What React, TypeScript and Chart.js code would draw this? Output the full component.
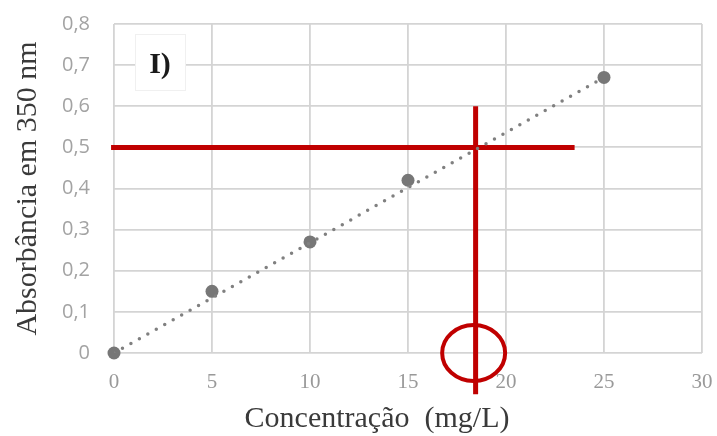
import React, { useEffect, useRef } from "react";
import { Chart, registerables } from "chart.js";

Chart.register(...registerables);

// ---- data ----
const concentrations = [0, 5, 10, 15, 25];
const absorbances = [0, 0.15, 0.27, 0.42, 0.67];
const trendConc = [0, 25];
const trendAbs = [0.0, 0.67];
const xTickLabels = ["0", "5", "10", "15", "20", "25", "30"];
const yTickLabels = ["0", "0,1", "0,2", "0,3", "0,4", "0,5", "0,6", "0,7", "0,8"];
const hLineX = [-0.15, 23.5];
const hLineY = [0.5, 0.5];
const vLineX = [18.45, 18.45];
const vLineY = [0.6, -0.1];
const circleCenter = [18.35, 0];
const panelLabel = "I)";
const xTitle = "Concentração  (mg/L)";
const yTitle = "Absorbância em 350 nm";

const RED = "#c00000";

const overlayPlugin = {
  id: "overlay",
  beforeDatasetsDraw(chart: any) {
    const { ctx, chartArea } = chart;
    ctx.save();
    const bx = chartArea.left + 21;
    const by = chartArea.top + 10;
    ctx.fillStyle = "#ffffff";
    ctx.fillRect(bx, by, 50, 56);
    ctx.strokeStyle = "#f0f0f0";
    ctx.lineWidth = 1;
    ctx.strokeRect(bx + 0.5, by + 0.5, 50, 56);
    ctx.fillStyle = "#1a1a1a";
    ctx.font = "bold 30px 'Liberation Serif'";
    ctx.textAlign = "center";
    ctx.textBaseline = "middle";
    ctx.fillText(panelLabel, bx + 25, by + 31);
    ctx.restore();
  },
  afterDatasetsDraw(chart: any) {
    const { ctx, scales, chartArea } = chart;
    const cx = scales.x.getPixelForValue(circleCenter[0]);
    const cy = scales.y.getPixelForValue(circleCenter[1]);
    ctx.save();
    ctx.strokeStyle = RED;
    ctx.lineWidth = 4;
    ctx.beginPath();
    ctx.ellipse(cx, cy, 31.5, 28, 0, 0, Math.PI * 2);
    ctx.stroke();
    // x-axis title (sits a little left of the plot centre in the reference)
    ctx.fillStyle = "#3a3a3a";
    ctx.font = "30px 'Liberation Serif'";
    ctx.textAlign = "center";
    ctx.textBaseline = "middle";
    ctx.fillText(xTitle, (chartArea.left + chartArea.right) / 2 - 31, chart.height - 17);
    ctx.restore();
  },
};

export default function App() {
  const ref = useRef<HTMLCanvasElement>(null);
  useEffect(() => {
    if (!ref.current) return;
    const chart = new Chart(ref.current, {
      type: "line",
      data: {
        datasets: [
          {
            label: "Tendência",
            data: trendConc.map((c, i) => ({ x: c, y: trendAbs[i] })),
            borderColor: "#808080",
            borderWidth: 3.5,
            borderDash: [0, 9.7],
            borderCapStyle: "round",
            pointRadius: 0,
          },
          {
            label: "Absorbância",
            data: concentrations.map((c, i) => ({ x: c, y: absorbances[i] })),
            showLine: false,
            pointRadius: 6.5,
            pointBackgroundColor: "#777777",
            pointBorderWidth: 0,
            borderColor: "#777777",
            clip: false,
          },
          {
            label: "h",
            data: hLineX.map((x, i) => ({ x, y: hLineY[i] })),
            borderColor: RED,
            borderWidth: 5,
            pointRadius: 0,
            clip: false,
          },
          {
            label: "v",
            data: vLineX.map((x, i) => ({ x, y: vLineY[i] })),
            borderColor: RED,
            borderWidth: 5,
            pointRadius: 0,
            clip: false,
          },
        ] as any,
      },
      options: {
        animation: false,
        responsive: true,
        maintainAspectRatio: false,
        layout: { padding: { top: 24, right: 15, left: 0, bottom: 0 } },
        plugins: { legend: { display: false }, tooltip: { enabled: false } },
        scales: {
          x: {
            type: "linear",
            min: 0,
            max: 30,
            border: { display: false },
            grid: { color: "#d4d4d4", lineWidth: 1.8, drawTicks: false },
            ticks: {
              stepSize: 5,
              padding: 17,
              color: "#999999",
              font: { family: "'Liberation Serif'", size: 21 },
              callback: (_v: any, i: number) => xTickLabels[i],
            },
            afterFit: (s: any) => {
              s.height = 83;
              s.paddingLeft = 0;
              s.paddingRight = 0;
            },
          },
          y: {
            type: "linear",
            min: 0,
            max: 0.8,
            border: { display: false },
            grid: { color: "#d4d4d4", lineWidth: 1.8, drawTicks: false },
            ticks: {
              stepSize: 0.1,
              padding: 24,
              color: "#a3a3a3",
              font: { family: "'Open Sans'", size: 20 },
              callback: (_v: any, i: number) => yTickLabels[i],
            },
            title: {
              display: true,
              text: yTitle,
              color: "#3a3a3a",
              font: { family: "'Liberation Serif'", size: 30 },
              padding: { top: 10, bottom: 0 },
            },
            afterFit: (s: any) => {
              s.width = 114;
              s.paddingTop = 0;
              s.paddingBottom = 0;
            },
          },
        },
      },
      plugins: [overlayPlugin],
    });
    return () => chart.destroy();
  }, []);
  return (
    <div style={{ position: "absolute", left: 0, top: 0, width: 717, height: 436, background: "#fff" }}>
      <canvas ref={ref} />
    </div>
  );
}
